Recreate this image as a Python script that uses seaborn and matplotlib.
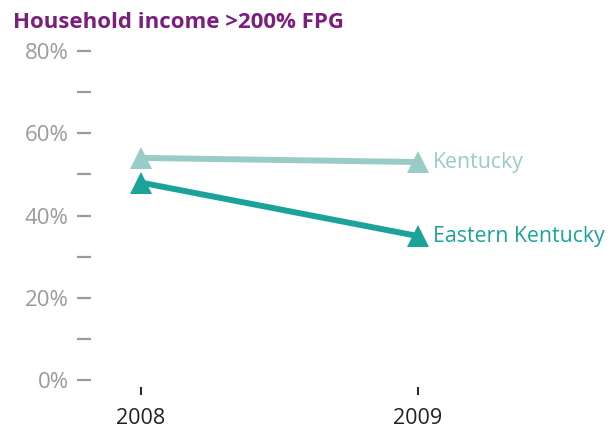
import pandas as pd
import matplotlib
matplotlib.use("Agg")
import matplotlib.pyplot as plt
from matplotlib.ticker import MultipleLocator, FuncFormatter
import seaborn as sns

# data
years = [2008, 2009]
kentucky = [54, 53]
eastern_kentucky = [48, 35]
series_names = ["Kentucky", "Eastern Kentucky"]
title = "Household income >200% FPG"

colors = {"Kentucky": "#9ACCC7", "Eastern Kentucky": "#1BA39A"}

sns.set_theme(style="white")
plt.rcParams["font.family"] = ["Open Sans", "DejaVu Sans"]

df = pd.DataFrame({
    "year": years * 2,
    "share": kentucky + eastern_kentucky,
    "region": [series_names[0]] * 2 + [series_names[1]] * 2,
})

W, H = 613, 434
fig = plt.figure(figsize=(W / 100, H / 100), dpi=100)
ax = fig.add_axes([91 / W, (H - 380) / H, (600 - 91) / W, (380 - 51) / H])

sns.lineplot(data=df, x="year", y="share", hue="region", style="region",
             palette=colors, markers={n: "^" for n in series_names},
             dashes=False, linewidth=4.3, markersize=16, markeredgewidth=0,
             legend=False, ax=ax, clip_on=False)

# end labels
for name, vals in [("Kentucky", kentucky), ("Eastern Kentucky", eastern_kentucky)]:
    ax.annotate(name, (years[-1], vals[-1]), xytext=(11, -0.5),
                textcoords="offset points", va="center", ha="left",
                fontsize=15.3, color=colors[name])

ax.set_xlim(2008 - 50 / 277, 2008 + 459 / 277)
ax.set_ylim(0, 80)
ax.set_xticks(years)
ax.set_xticklabels([str(y) for y in years])
ax.yaxis.set_major_locator(MultipleLocator(20))
ax.yaxis.set_minor_locator(MultipleLocator(10))
ax.yaxis.set_major_formatter(FuncFormatter(lambda v, _: f"{v:.0f}%"))
ax.set_xlabel("")
ax.set_ylabel("")

for side in ["top", "right", "left", "bottom"]:
    ax.spines[side].set_visible(False)
ax.spines["bottom"].set_position(("outward", 5))

ax.tick_params(axis="y", which="both", left=True, length=10, width=1.6,
               color="#9A9A9A", pad=6, labelsize=16, labelcolor="#9A9A9A",
               direction="out")
ax.tick_params(axis="x", bottom=True, length=6, width=1.4, color="#222222",
               pad=9, labelsize=15.5, labelcolor="#222222", direction="out")

fig.text(13 / W, 1 - 22 / H, title, fontsize=16, fontweight="bold",
         color="#7B1E7D", va="center", ha="left")

fig.savefig("out.png", dpi=100)
